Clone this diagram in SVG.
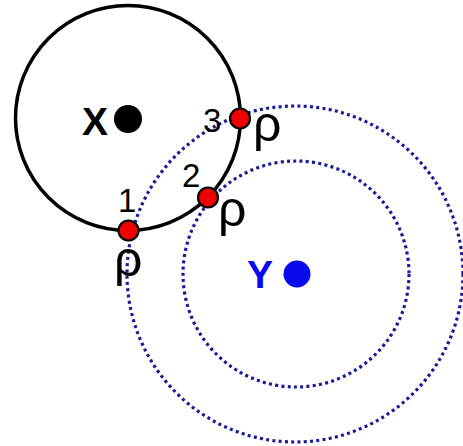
<svg xmlns="http://www.w3.org/2000/svg" width="463" height="446" viewBox="0 0 463 446">
<style>
.dotted{fill:none;stroke:#1a1a98;stroke-width:3.2;stroke-dasharray:3 3.3}
.ring{fill:none;stroke:#000;stroke-width:3.5}
.pt{fill:#ee0000;stroke:#000;stroke-width:2.2}
.lbl{font-family:"Liberation Sans",Arial,sans-serif;font-weight:bold;font-size:39px}
.num{font-family:"Liberation Sans",Arial,sans-serif;font-size:33px;fill:#000}
.rho{font-family:"Liberation Sans",Arial,sans-serif;font-size:50px;fill:#000}
</style>
<rect width="463" height="446" fill="#fff"/>
<g id="Y">
  <circle class="dotted" cx="296" cy="274" r="113"/>
  <circle class="dotted" cx="295" cy="274" r="168"/>
  <circle cx="297" cy="274" r="13.5" fill="#0a0aee"/>
  <text class="lbl" x="247" y="288" fill="#0a0aee">Y</text>
</g>
<g id="X">
  <circle class="ring" cx="128" cy="118" r="112.5"/>
  <circle cx="128" cy="119" r="14" fill="#000"/>
  <text class="lbl" x="82" y="135" fill="#000">X</text>
</g>
<g id="connectors"></g>
<g id="p1">
  <circle class="pt" cx="128.5" cy="230.5" r="10"/>
  <text class="num" x="118" y="212">1</text>
  <text class="rho" x="114" y="276">ρ</text>
</g>
<g id="p2">
  <circle class="pt" cx="208" cy="197.5" r="10"/>
  <text class="num" x="182" y="187">2</text>
  <text class="rho" x="218" y="226">ρ</text>
</g>
<g id="p3">
  <circle class="pt" cx="240" cy="118.5" r="10"/>
  <text class="num" x="203" y="132">3</text>
  <text class="rho" x="253" y="141">ρ</text>
</g>
</svg>
